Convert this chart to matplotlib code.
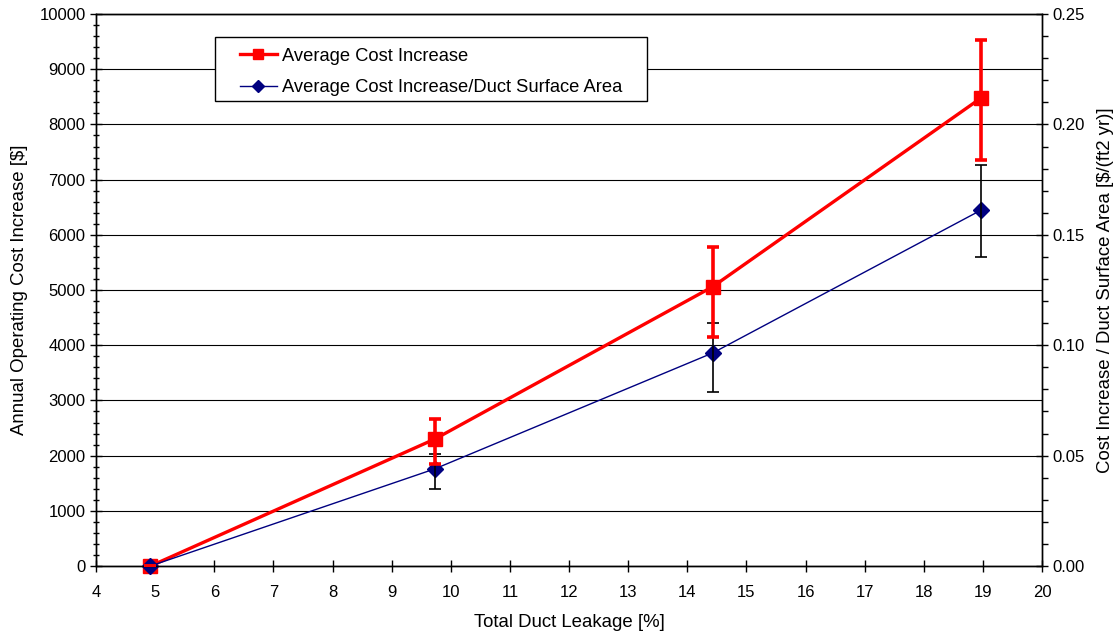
import matplotlib
matplotlib.use("Agg")
import matplotlib.pyplot as plt
from matplotlib.ticker import MultipleLocator, FormatStrFormatter
from matplotlib.lines import Line2D
from matplotlib.patches import Rectangle

plt.rcParams['font.family'] = ['Liberation Sans', 'DejaVu Sans']

# Data
leakage = [4.92, 9.73, 14.43, 18.97]
cost_mean = [0, 2300, 5060, 8480]
cost_upper = [0, 2670, 5780, 9530]
cost_lower = [0, 1840, 4150, 7350]
area_mean = [0.0, 0.0440, 0.0965, 0.1612]
area_upper = [0.0, 0.0508, 0.1100, 0.1815]
area_lower = [0.0, 0.0348, 0.0788, 0.1400]

LEFT_MAX = 10000
RIGHT_MAX = 0.25
scale = RIGHT_MAX / LEFT_MAX

fig = plt.figure(figsize=(11.14, 6.32), dpi=100)
ax = fig.add_axes([0.0862, 0.1044, 0.8492, 0.8734])
ax2 = ax.twinx()

# Red series line (left axis, behind)
ax.plot(leakage, cost_mean, color='#ff0000', lw=2.4, marker='s', ms=9.5,
        mfc='#ff0000', mec='#ff0000', zorder=3, clip_on=False)

# Blue series on right axis (front)
yerr2 = [[m - l for m, l in zip(area_mean, area_lower)],
         [u - m for m, u in zip(area_mean, area_upper)]]
ax2.plot(leakage, area_mean, color='#000080', lw=1.0, marker='D', ms=8.5,
         mfc='#000080', mec='#000080', zorder=2, clip_on=False)
ax2.errorbar(leakage, area_mean, yerr=yerr2, fmt='none', ecolor='black',
             elinewidth=1.2, capsize=4, capthick=1.2, zorder=3)

# Red error bars drawn in right-axis units so they sit on top
red_mean_r = [v * scale for v in cost_mean]
yerr = [[(m - l) * scale for m, l in zip(cost_mean, cost_lower)],
        [(u - m) * scale for m, u in zip(cost_mean, cost_upper)]]
ax2.errorbar(leakage, red_mean_r, yerr=yerr, fmt='none', ecolor='#ff0000',
             elinewidth=2.6, capsize=4.5, capthick=2.6, zorder=4)

ax.set_xlim(4, 20)
ax.set_ylim(0, LEFT_MAX)
ax2.set_ylim(0, RIGHT_MAX)

ax.xaxis.set_major_locator(MultipleLocator(1))
ax.yaxis.set_major_locator(MultipleLocator(1000))
ax.yaxis.set_minor_locator(MultipleLocator(200))
ax2.yaxis.set_major_locator(MultipleLocator(0.05))
ax2.yaxis.set_minor_locator(MultipleLocator(0.01))
ax2.yaxis.set_major_formatter(FormatStrFormatter('%.2f'))

ax.grid(axis='y', which='major', color='black', lw=0.8)
ax.set_axisbelow(True)

ax.tick_params(axis='x', which='major', direction='inout', length=8, width=1, labelsize=12, pad=10)
ax.tick_params(axis='y', which='major', direction='inout', length=8, width=1, labelsize=12)
ax.tick_params(axis='y', which='minor', direction='inout', length=5, width=1)
ax2.tick_params(axis='y', which='major', direction='inout', length=8, width=1, labelsize=12)
ax2.tick_params(axis='y', which='minor', direction='out', length=4, width=1)

for a in (ax, ax2):
    for s in a.spines.values():
        s.set_color('black')
        s.set_linewidth(1)

ax.set_xlabel('Total Duct Leakage [%]', fontsize=13.4, labelpad=10)
ax.set_ylabel('Annual Operating Cost Increase [$]', fontsize=13.4, labelpad=8)
ax2.set_ylabel('Cost Increase / Duct Surface Area [$/(ft2 yr)]', fontsize=13.4, labelpad=9)

# Legend
frame = Rectangle((0.1258, 0.8424), 0.4567, 0.1159, transform=ax2.transAxes,
                  facecolor='white', edgecolor='black', lw=1, zorder=9)
ax2.add_patch(frame)
handles = [
    Line2D([], [], color='#ff0000', lw=2.4, marker='s', ms=7.5, mfc='#ff0000', mec='#ff0000'),
    Line2D([], [], color='#000080', lw=1.0, marker='D', ms=6.5, mfc='#000080', mec='#000080'),
]
labels = ['Average Cost Increase', 'Average Cost Increase/Duct Surface Area']
leg = ax2.legend(handles, labels, loc='upper left', bbox_to_anchor=(0.1522, 0.939),
                 fontsize=13.2, frameon=False, handlelength=2.0, handletextpad=0.3,
                 borderpad=0, labelspacing=0.8, borderaxespad=0)
leg.set_zorder(10)

fig.savefig('out.png', dpi=100)
